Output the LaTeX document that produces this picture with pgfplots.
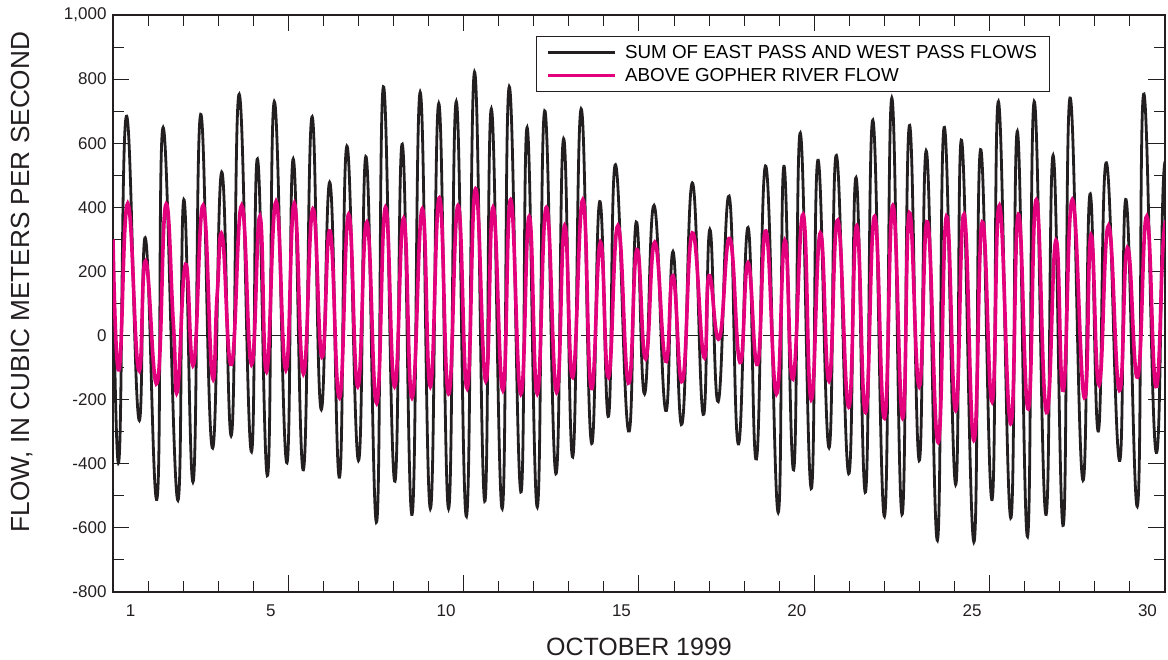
\documentclass[border=0pt]{standalone}
\usepackage{pgfplots}
\pgfplotsset{compat=1.18}
\usepackage{fontspec}
\setmainfont{Liberation Sans}
\definecolor{flowblack}{RGB}{35,31,32}
\definecolor{flowmag}{RGB}{228,0,124}

\pgfplotstableread{
x y
0.00 290
0.17 -390
0.38 684
0.73 -257
0.93 302
1.26 -506
1.43 649
1.84 -512
2.02 424
2.29 -454
2.50 690
2.83 -350
3.10 510
3.38 -310
3.60 753
3.94 -361
4.12 551
4.41 -436
4.60 730
4.95 -396
5.14 551
5.43 -419
5.67 681
5.93 -229
6.19 476
6.46 -442
6.67 591
7.00 -390
7.22 557
7.52 -581
7.71 776
8.03 -454
8.25 597
8.53 -558
8.76 759
9.05 -540
9.29 724
9.57 -540
9.79 730
10.08 -564
10.31 822
10.60 -517
10.79 707
11.10 -540
11.30 776
11.63 -488
11.81 649
12.10 -535
12.31 701
12.63 -431
12.85 614
13.11 -379
13.35 707
13.64 -333
13.88 418
14.13 -252
14.33 533
14.70 -298
14.92 354
15.16 -182
15.43 406
15.76 -234
15.97 262
16.23 -275
16.52 476
16.83 -246
17.02 331
17.26 -206
17.57 435
17.83 -338
18.11 337
18.35 -385
18.62 528
18.97 -552
19.13 528
19.41 -419
19.60 632
19.91 -477
20.10 547
20.42 -350
20.63 562
20.98 -431
21.19 493
21.46 -488
21.67 672
22.00 -564
22.21 741
22.50 -558
22.71 655
22.99 -390
23.20 574
23.51 -639
23.70 649
24.03 -465
24.20 609
24.55 -644
24.74 580
25.07 -512
25.25 730
25.60 -569
25.79 637
26.08 -627
26.27 730
26.60 -558
26.81 562
27.10 -592
27.29 741
27.65 -448
27.86 441
28.10 -298
28.33 539
28.70 -390
28.89 424
29.22 -529
29.39 753
29.74 -361
29.95 470
30.05 420
}\sumflow

\pgfplotstableread{
x y
0.00 300
0.17 -107
0.42 412
0.73 -107
0.93 233
1.26 -148
1.50 406
1.72 40
1.84 -171
2.07 222
2.30 -90
2.57 406
2.83 -125
2.97 126
3.12 308
3.38 -90
3.67 406
3.95 -90
4.19 372
4.38 -113
4.65 418
4.93 -107
5.17 412
5.43 -119
5.70 395
5.96 -67
6.19 326
6.46 -194
6.72 378
6.98 -159
7.24 354
7.52 -211
7.77 400
8.03 -159
8.29 366
8.53 -194
8.82 395
9.05 -159
9.31 430
9.57 -182
9.84 406
10.10 -165
10.34 458
10.63 -142
10.84 400
11.12 -171
11.34 424
11.63 -182
11.87 372
12.10 -182
12.36 400
12.65 -177
12.88 343
13.11 -130
13.40 424
13.64 -165
13.90 291
14.13 -130
14.40 343
14.70 -148
14.94 268
15.19 -73
15.45 291
15.76 -80
15.97 187
16.24 -142
16.52 320
16.85 -67
17.00 187
17.29 -9
17.59 303
17.88 -84
18.11 227
18.38 -90
18.62 326
18.92 -182
19.16 297
19.39 -136
19.68 378
19.91 -200
20.17 320
20.42 -142
20.67 360
20.98 -223
21.21 343
21.46 -240
21.72 372
22.00 -258
22.24 406
22.52 -258
22.71 383
22.99 -159
23.23 354
23.53 -333
23.77 372
24.03 -234
24.27 378
24.55 -327
24.79 354
25.07 -206
25.28 406
25.60 -275
25.82 378
26.10 -229
26.33 424
26.62 -240
26.89 297
27.10 -171
27.36 424
27.70 -194
27.89 314
28.12 -154
28.39 343
28.70 -171
28.93 274
29.22 -130
29.48 372
29.74 -159
29.95 291
30.05 330
}\gopherflow

\begin{document}
\begin{tikzpicture}
\begin{axis}[
  scale only axis,
  width=1052pt, height=577pt,
  at={(0,0)}, anchor=south west,
  xmin=0, xmax=30, ymin=-800, ymax=1000,
  axis line style={line width=1.5pt, draw=flowblack},
  tick style={line width=1pt, color=flowblack},
  tick align=inside,
  xtick={5,10,15,20,25}, xticklabels={\empty,\empty,\empty,\empty,\empty},
  minor xtick={1,...,29},
  extra x ticks={0.5,4.5,9.5,14.5,19.5,24.5,29.5},
  extra x tick labels={1,5,10,15,20,25,30},
  extra x tick style={major tick length=0pt},
  ytick={-800,-600,...,1000},
  yticklabels={-800,-600,-400,-200,0,200,400,600,800,{1,000}},
  minor ytick={-700,-500,...,900},
  major tick length=16.5pt, minor tick length=11pt,
  tick label style={font=\fontsize{17}{20}\selectfont, text=flowblack},
  xticklabel style={yshift=-9pt},
  yticklabel style={xshift=-3pt},
  xlabel={OCTOBER 1999},
  ylabel={FLOW, IN CUBIC METERS PER SECOND},
  xlabel style={at={(axis description cs:0.5,-0.0953)}, anchor=center,
    font=\fontsize{25}{28}\selectfont, text=flowblack},
  ylabel style={at={(axis description cs:-0.0865,0.537)}, anchor=center,
    font=\fontsize{26.2}{28}\selectfont, text=flowblack},
  legend style={at={(axis description cs:0.4021,0.9636)}, anchor=north west,
    draw=flowblack, line width=1pt, font=\fontsize{18.8}{20}\selectfont,
    inner xsep=10pt, inner ysep=7pt, row sep=4pt, column sep=6pt},
  legend cell align=left,
  legend image code/.code={\draw[#1] (0pt,0pt) -- (67pt,0pt);},
]
\addplot[forget plot, flowblack, line width=1.2pt, dash pattern=on 17pt off 9pt] coordinates {(0,0) (30,0)};
\addplot[flowblack, line width=2.8pt, smooth, tension=0.85] table[x=x,y=y] {\sumflow};
\addplot[flowmag, line width=3.6pt, smooth, tension=0.85] table[x=x,y=y] {\gopherflow};
\legend{SUM OF EAST PASS AND WEST PASS FLOWS, ABOVE GOPHER RIVER FLOW}
\end{axis}
\path[use as bounding box] (-113pt,-67pt) rectangle (1055pt,592pt);
\end{tikzpicture}
\end{document}
